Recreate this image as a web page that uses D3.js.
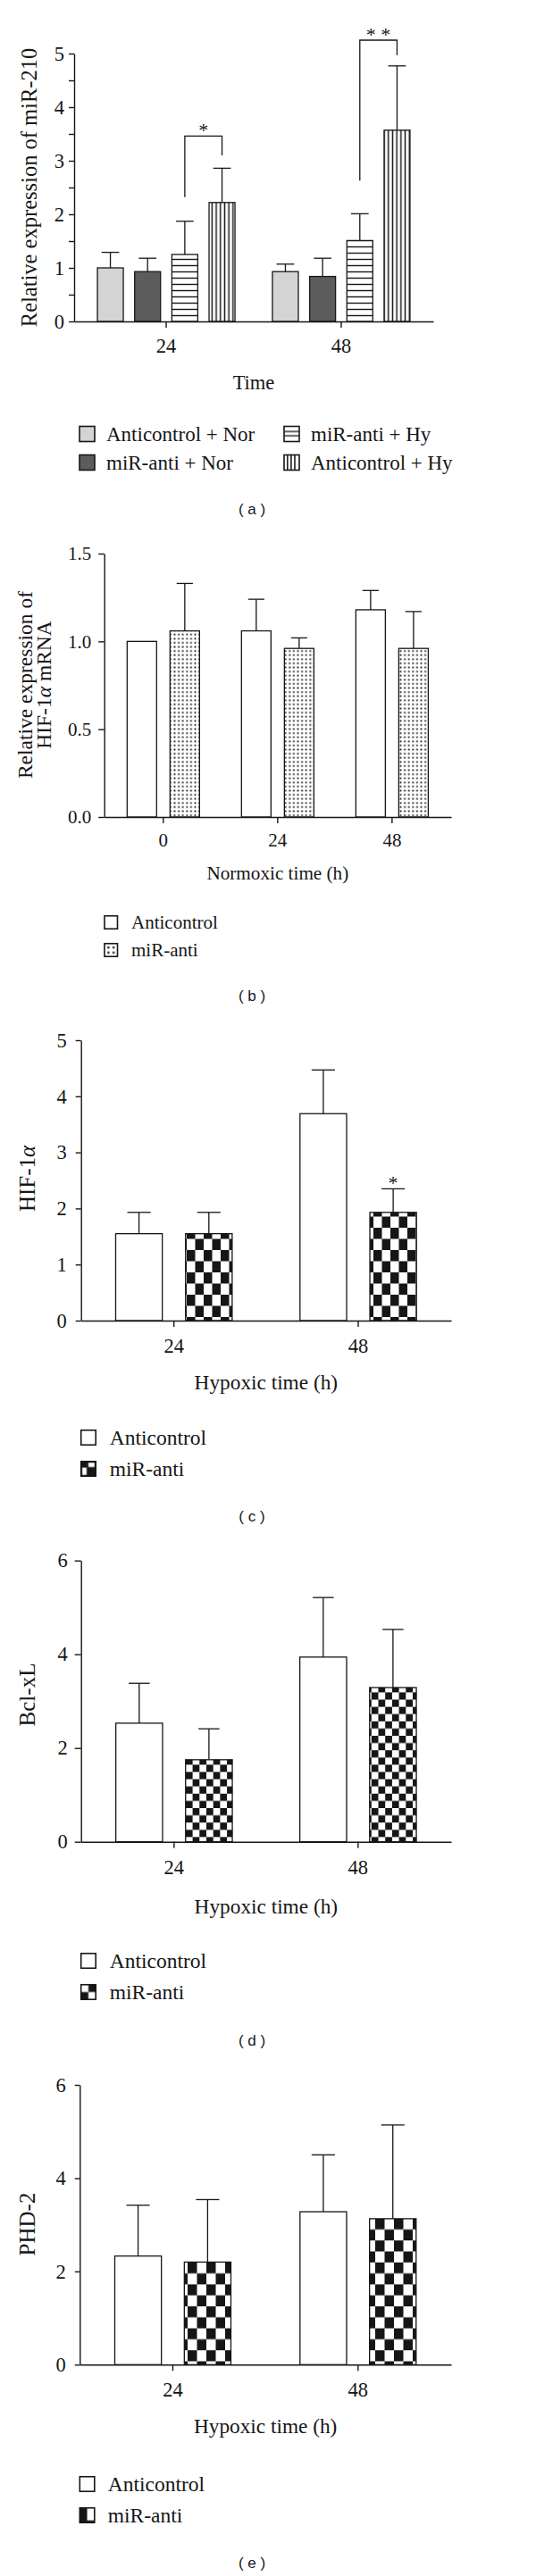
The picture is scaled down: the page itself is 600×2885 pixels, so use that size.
<!DOCTYPE html>
<html>
<head>
<meta charset="utf-8">
<script src="https://cdn.jsdelivr.net/npm/d3@7"></script>
<style>
  body { margin: 0; background: #fff; }
  svg text { font-family: "Liberation Serif", "Times New Roman", serif; fill: #161616; }
  svg text.caption { font-family: "Liberation Sans", Arial, sans-serif; }
</style>
</head>
<body>
<svg id="fig" width="600" height="2885"></svg>
<script>
// ---- data ----
// (a) miR-210 expression
const timeA = ["24", "48"];
const groupsA = ["Anticontrol + Nor", "miR-anti + Nor", "miR-anti + Hy", "Anticontrol + Hy"];
const miR210 = [[1.00, 0.93, 1.25, 2.22], [0.93, 0.84, 1.51, 3.57]];
const miR210Err = [[0.29, 0.25, 0.62, 0.64], [0.14, 0.34, 0.50, 1.20]];
const ticksA = [0, 0.5, 1, 1.5, 2, 2.5, 3, 3.5, 4, 4.5, 5];
const tickLabelsA = ["0", "", "1", "", "2", "", "3", "", "4", "", "5"];
// brackets: bar indexes, top of bracket and foot of each leg (axis units)
const sigA = [
  { time: "24", from: 2, to: 3, top: 3.46, legL: 2.32, legR: 3.10, mark: "*" },
  { time: "48", from: 2, to: 3, top: 5.25, legL: 2.63, legR: 4.97, mark: "* *" }
];

// (b) HIF-1a mRNA, normoxia
const timeB = ["0", "24", "48"];
const groupsB = ["Anticontrol", "miR-anti"];
const hifMrna = [[1.00, 1.06], [1.06, 0.96], [1.18, 0.96]];
const hifMrnaErr = [[0, 0.27], [0.18, 0.06], [0.11, 0.21]];
const ticksB = [0, 0.5, 1.0, 1.5];
const tickLabelsB = ["0.0", "0.5", "1.0", "1.5"];

// (c)-(e) hypoxia
const timeHyp = ["24", "48"];
const groupsHyp = ["Anticontrol", "miR-anti"];
const hif = [[1.55, 1.55], [3.69, 1.93]];
const hifErr = [[0.38, 0.38], [0.78, 0.42]];
const ticksC = [0, 1, 2, 3, 4, 5];
const tickLabelsC = ["0", "1", "2", "3", "4", "5"];
const sigC = [{ time: "48", bar: 1, mark: "*" }];

const bcl = [[2.53, 1.75], [3.94, 3.29]];
const bclErr = [[0.85, 0.66], [1.27, 1.24]];
const phd = [[2.33, 2.20], [3.28, 3.13]];
const phdErr = [[1.09, 1.34], [1.22, 2.01]];
const ticksDE = [0, 2, 4, 6];
const tickLabelsDE = ["0", "2", "4", "6"];

// ---- setup ----
const svg = d3.select("#fig");
const defs = svg.append("defs");
const INK = "#161616";

function pattern(id, w, h, build) {
    const pt = defs.append("pattern").attr("id", id)
        .attr("patternUnits", "userSpaceOnUse").attr("width", w).attr("height", h);
    pt.append("rect").attr("width", w).attr("height", h).attr("fill", "#fff");
    build(pt, w, h);
}
function checker(id, cw, ch) {
    pattern(id, cw * 2, ch * 2, pt => {
        pt.append("rect").attr("width", cw).attr("height", ch).attr("fill", INK);
        pt.append("rect").attr("x", cw).attr("y", ch).attr("width", cw).attr("height", ch).attr("fill", INK);
    });
}
pattern("hatchH", 8, 7, (pt, w) => pt.append("rect").attr("y", 2.8).attr("width", w).attr("height", 1.4).attr("fill", INK));
pattern("hatchV", 4.7, 8, (pt, w, h) => pt.append("rect").attr("x", 1.6).attr("width", 1.5).attr("height", h).attr("fill", INK));
pattern("dots", 4.6, 4.6, pt => pt.append("rect").attr("x", 1.4).attr("y", 1.4).attr("width", 1.8).attr("height", 1.8).attr("fill", INK));
checker("checkC", 9.5, 12.5);
checker("checkD", 7.7, 8.1);
checker("checkE", 10.5, 12.3);

// legend swatches (box units)
function boxPattern(id, rects, holes) {
    const pt = defs.append("pattern").attr("id", id)
        .attr("patternUnits", "objectBoundingBox").attr("patternContentUnits", "objectBoundingBox")
        .attr("width", 1).attr("height", 1);
    pt.append("rect").attr("width", 1).attr("height", 1).attr("fill", "#fff");
    rects.forEach(r => pt.append("rect").attr("x", r[0]).attr("y", r[1]).attr("width", r[2]).attr("height", r[3]).attr("fill", INK));
    (holes || []).forEach(r => pt.append("rect").attr("x", r[0]).attr("y", r[1]).attr("width", r[2]).attr("height", r[3]).attr("fill", "#fff"));
}
boxPattern("legH", [[0, 0.3, 1, 0.08], [0, 0.58, 1, 0.08]]);
boxPattern("legV", [[0.18, 0, 0.09, 1], [0.42, 0, 0.09, 1], [0.66, 0, 0.09, 1]]);
boxPattern("legDots", [[0.22, 0.22, 0.16, 0.16], [0.62, 0.22, 0.16, 0.16], [0.22, 0.62, 0.16, 0.16], [0.62, 0.62, 0.16, 0.16]]);
boxPattern("legC", [[0, 0, 1, 1]], [[0.5, 0.08, 0.42, 0.3], [0.08, 0.42, 0.3, 0.5]]);
boxPattern("legD", [[0.5, 0, 0.5, 0.5], [0, 0.5, 0.5, 0.5]]);
boxPattern("legE", [[0, 0, 0.5, 1], [0, 0.85, 1, 0.15]]);

function richText(sel, str) {
    str.split(/(α)/).forEach(part => {
        if (!part) return;
        const t = sel.append("tspan").text(part);
        if (part === "α") t.attr("font-style", "italic");
    });
}

// ---- panels ----
const panels = [
    {
        cats: timeA, groups: groupsA, values: miR210, errors: miR210Err,
        ticks: ticksA, tickLabels: tickLabelsA, yMax: 5,
        left: 83, right: 485, top: 60, bottom: 360,
        pi: 0.214, po: 0.133, piIn: 0.304, cap: 0.68,
        yTick: 6, yPad: 5, xPad: 12, tickFs: 22.5,
        fills: ["#d4d4d4", "#5c5c5c", "url(#hatchH)", "url(#hatchV)"],
        yTitle: ["Relative expression of miR-210"], yTitleX: [32], yTitleY: 210, yTitleFs: 24.5,
        xTitle: "Time", xTitleY: 428, xTitleFs: 22.5,
        legFills: ["#d4d4d4", "#5c5c5c", "url(#legH)", "url(#legV)"],
        legPos: [[89, 486], [89, 518], [318, 486], [318, 518]], legSize: 17, legGap: 30, legFs: 23,
        sig: sigA, caption: "( a )", capY: 570
    },
    {
        cats: timeB, groups: groupsB, values: hifMrna, errors: hifMrnaErr,
        ticks: ticksB, tickLabels: tickLabelsB, yMax: 1.5,
        left: 116.7, right: 505, top: 620, bottom: 915,
        pi: 0.367, po: 0.2, piIn: 0.3125, cap: 0.55,
        yTick: 6.5, yPad: 8, xPad: 11, tickFs: 21,
        fills: ["#fff", "url(#dots)"],
        yTitle: ["Relative expression of", "HIF-1α mRNA"], yTitleX: [28, 49], yTitleY: 767, yTitleFs: 23.5,
        xTitle: "Normoxic time (h)", xTitleY: 978, xTitleFs: 21.2,
        legFills: ["#fff", "url(#legDots)"],
        legPos: [[117, 1033], [117, 1064]], legSize: 14.5, legGap: 30, legFs: 21,
        caption: "( b )", capY: 1115
    },
    {
        cats: timeHyp, groups: groupsHyp, values: hif, errors: hifErr,
        ticks: ticksC, tickLabels: tickLabelsC, yMax: 5,
        left: 90.7, right: 505, top: 1165, bottom: 1479,
        pi: 0.368, po: 0.188, piIn: 0.333, cap: 0.5,
        yTick: 6, yPad: 10, xPad: 13, tickFs: 22.5,
        fills: ["#fff", "url(#checkC)"],
        yTitle: ["HIF-1α"], yTitleX: [30], yTitleY: 1320, yTitleFs: 25,
        xTitle: "Hypoxic time (h)", xTitleY: 1548, xTitleFs: 23.3,
        legFills: ["#fff", "url(#legC)"],
        legPos: [[90.7, 1610], [90.7, 1645]], legSize: 16.5, legGap: 32, legFs: 23.5,
        sigBar: sigC, caption: "( c )", capY: 1698
    },
    {
        cats: timeHyp, groups: groupsHyp, values: bcl, errors: bclErr,
        ticks: ticksDE, tickLabels: tickLabelsDE, yMax: 6,
        left: 90.7, right: 505, top: 1747.7, bottom: 2062.7,
        pi: 0.367, po: 0.189, piIn: 0.33, cap: 0.45,
        yTick: 7, yPad: 8, xPad: 13, tickFs: 22.5,
        fills: ["#fff", "url(#checkD)"],
        yTitle: ["Bcl-xL"], yTitleX: [30], yTitleY: 1898, yTitleFs: 25,
        xTitle: "Hypoxic time (h)", xTitleY: 2135, xTitleFs: 23.3,
        legFills: ["#fff", "url(#legD)"],
        legPos: [[90.7, 2196], [90.7, 2231]], legSize: 16.5, legGap: 32, legFs: 23.5,
        caption: "( d )", capY: 2285
    },
    {
        cats: timeHyp, groups: groupsHyp, values: phd, errors: phdErr,
        ticks: ticksDE, tickLabels: tickLabelsDE, yMax: 6,
        left: 89.3, right: 505, top: 2335, bottom: 2648.3,
        pi: 0.373, po: 0.189, piIn: 0.33, cap: 0.5,
        yTick: 5.5, yPad: 10, xPad: 13, tickFs: 22.5,
        fills: ["#fff", "url(#checkE)"],
        yTitle: ["PHD-2"], yTitleX: [30], yTitleY: 2491, yTitleFs: 25,
        xTitle: "Hypoxic time (h)", xTitleY: 2717, xTitleFs: 23.3,
        legFills: ["#fff", "url(#legE)"],
        legPos: [[89.3, 2782], [89.3, 2817]], legSize: 16.5, legGap: 31.5, legFs: 23.5,
        caption: "( e )", capY: 2870
    }
];

function drawPanel(p) {
    const g = svg.append("g");
    const x = d3.scaleBand().domain(p.cats).range([p.left, p.right])
        .paddingInner(p.pi).paddingOuter(p.po);
    const xi = d3.scaleBand().domain(d3.range(p.groups.length))
        .range([0, x.bandwidth()]).paddingInner(p.piIn);
    const y = d3.scaleLinear().domain([0, p.yMax]).range([p.bottom, p.top]);
    const bw = xi.bandwidth();
    const cx = (cat, j) => x(cat) + xi(j) + bw / 2;

    const rows = p.cats.flatMap((c, i) => p.groups.map((s, j) =>
        ({ cat: c, j: j, v: p.values[i][j], e: p.errors[i][j] })));

    g.selectAll("rect.bar").data(rows).join("rect")
        .attr("class", "bar")
        .attr("x", d => x(d.cat) + xi(d.j))
        .attr("y", d => y(d.v))
        .attr("width", bw)
        .attr("height", d => y(0) - y(d.v))
        .attr("fill", d => p.fills[d.j])
        .attr("stroke", INK).attr("stroke-width", 1.3);

    // error bars, upper half only
    const eb = g.selectAll("g.err").data(rows.filter(d => d.e > 0)).join("g")
        .attr("class", "err").attr("stroke", INK).attr("stroke-width", 1.3);
    eb.append("line")
        .attr("x1", d => cx(d.cat, d.j)).attr("x2", d => cx(d.cat, d.j))
        .attr("y1", d => y(d.v)).attr("y2", d => y(d.v + d.e));
    eb.append("line")
        .attr("x1", d => cx(d.cat, d.j) - bw * p.cap / 2)
        .attr("x2", d => cx(d.cat, d.j) + bw * p.cap / 2)
        .attr("y1", d => y(d.v + d.e)).attr("y2", d => y(d.v + d.e));

    // axes
    const xa = g.append("g").attr("transform", `translate(0,${p.bottom})`)
        .call(d3.axisBottom(x).tickSize(7).tickSizeOuter(0).tickPadding(p.xPad));
    const ya = g.append("g").attr("transform", `translate(${p.left},0)`)
        .call(d3.axisLeft(y).tickValues(p.ticks).tickFormat((d, i) => p.tickLabels[i])
            .tickSize(p.yTick).tickSizeOuter(0).tickPadding(p.yPad));
    [xa, ya].forEach(a => {
        a.attr("font-family", null).attr("font-size", null);
        a.selectAll(".domain, .tick line").attr("stroke", INK).attr("stroke-width", 1.4);
        a.selectAll("text").attr("font-size", p.tickFs).attr("fill", INK);
    });

    // axis titles
    p.yTitle.forEach((t, k) => {
        const txt = g.append("text")
            .attr("transform", `translate(${p.yTitleX[k]},${p.yTitleY}) rotate(-90)`)
            .attr("text-anchor", "middle").attr("dominant-baseline", "central")
            .attr("font-size", p.yTitleFs);
        richText(txt, t);
    });
    g.append("text")
        .attr("x", (p.left + p.right) / 2).attr("y", p.xTitleY)
        .attr("text-anchor", "middle").attr("dominant-baseline", "central")
        .attr("font-size", p.xTitleFs).text(p.xTitle);

    // significance brackets
    (p.sig || []).forEach(s => {
        const x1 = cx(s.time, s.from), x2 = cx(s.time, s.to);
        g.append("path")
            .attr("d", `M${x1},${y(s.legL)}V${y(s.top)}H${x2}V${y(s.legR)}`)
            .attr("fill", "none").attr("stroke", INK).attr("stroke-width", 1.3);
        g.append("text").attr("x", (x1 + x2) / 2).attr("y", y(s.top) + 0.5)
            .attr("text-anchor", "middle").attr("font-size", 22).text(s.mark);
    });
    (p.sigBar || []).forEach(s => {
        const i = p.cats.indexOf(s.time);
        const top = p.values[i][s.bar] + p.errors[i][s.bar];
        g.append("text").attr("x", cx(s.time, s.bar)).attr("y", y(top) + 1)
            .attr("text-anchor", "middle").attr("font-size", 22).text(s.mark);
    });

    // legend
    const leg = g.selectAll("g.leg").data(p.groups).join("g")
        .attr("class", "leg")
        .attr("transform", (d, j) => `translate(${p.legPos[j][0]},${p.legPos[j][1]})`);
    leg.append("rect")
        .attr("x", 0).attr("y", -p.legSize / 2)
        .attr("width", p.legSize).attr("height", p.legSize)
        .attr("fill", (d, j) => p.legFills[j])
        .attr("stroke", INK).attr("stroke-width", 1.6);
    leg.append("text")
        .attr("x", p.legGap).attr("y", 0)
        .attr("dominant-baseline", "central")
        .attr("font-size", p.legFs).text(d => d);

    g.append("text").attr("class", "caption")
        .attr("x", 282).attr("y", p.capY)
        .attr("text-anchor", "middle").attr("dominant-baseline", "central")
        .attr("font-size", 17).text(p.caption);
}

panels.forEach(drawPanel);
</script>
</body>
</html>
